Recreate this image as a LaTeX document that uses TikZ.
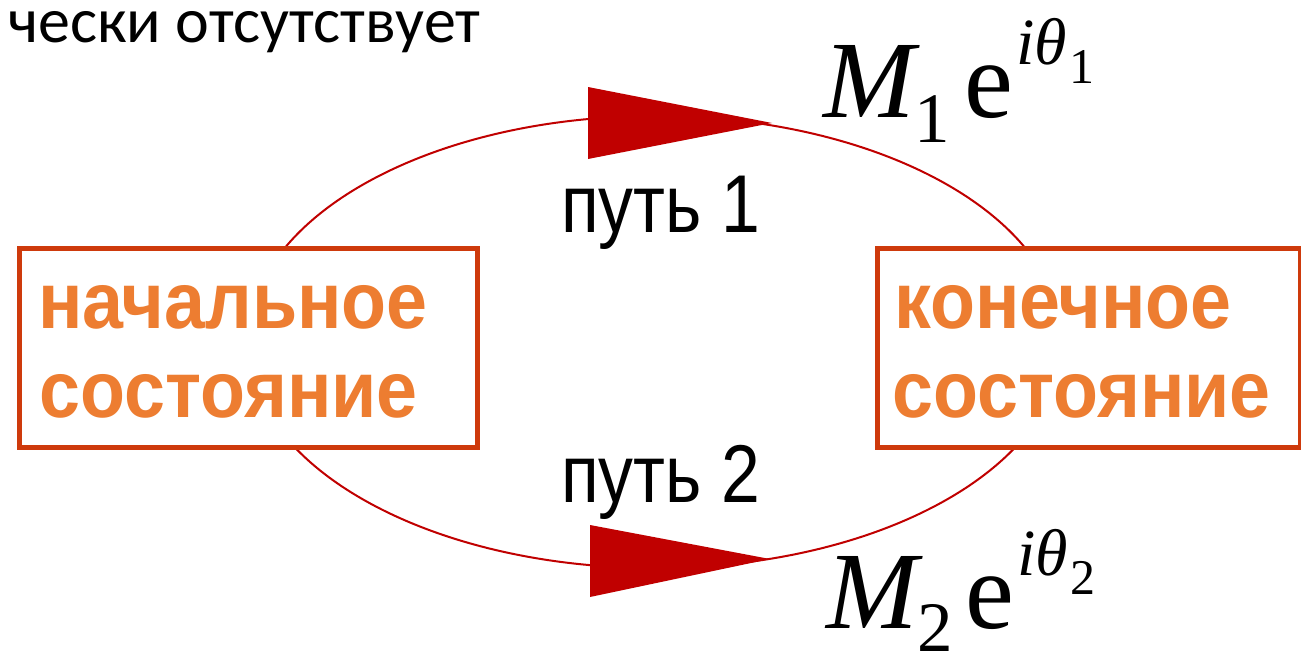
\documentclass[tikz,border=0pt]{standalone}
\usepackage{fontspec}
\usepackage{graphicx}
\setmainfont{Liberation Sans}
\newfontfamily\calibrifont{Carlito}
\newfontfamily\timesfont{Liberation Serif}
\definecolor{pathred}{RGB}{192,0,0}
\definecolor{boxline}{RGB}{206,58,12}
\definecolor{boxtext}{RGB}{237,125,49}
\newcommand{\sqz}[2]{\scalebox{#1}[1]{#2}}
\begin{document}
\begin{tikzpicture}[x=1pt,y=-1pt,
  box/.style={draw=boxline, line width=5pt, fill=white, minimum height=199pt, inner sep=0pt, anchor=north west},
  stxt/.style={text=boxtext, font=\fontsize{80}{89}\selectfont\bfseries, anchor=base west, inner sep=0pt},
  ptxt/.style={font=\fontsize{82}{90}\selectfont, anchor=base west, inner sep=0pt},
  mtxt/.style={font=\timesfont\fontsize{110}{110}\selectfont, anchor=base west, inner sep=0pt},
  pathline/.style={draw=pathred, line width=2pt},
  tiptri/.style={fill=pathred}]
\useasboundingbox (0,0) rectangle (1301,661);
% top-left cut text
\node[anchor=base west, inner sep=0pt, text height=32pt, font=\calibrifont\fontsize{64}{64}\selectfont] (top) at (8,43) {чески отсутствует};
% paths (ellipse)
\coordinate (c) at (655,342);
\draw[pathline] (c) ellipse [x radius=407pt, y radius=226pt];
\fill[tiptri] (588,87) -- (772,123) -- (588,159) -- cycle;
\fill[tiptri] (590,525) -- (770,559) -- (590,597) -- cycle;
% boxes
\node[box, minimum width=458pt] (start) at (16.5,245.5) {};
\node[box, minimum width=423pt] (end) at (874.5,245.5) {};
\node[stxt] (s1) at (38,328) {\sqz{0.92}{начальное}};
\node[stxt] (s2) at (39,417) {\sqz{0.92}{состояние}};
\node[stxt] (e1) at (894,328) {\sqz{0.92}{конечное}};
\node[stxt] (e2) at (892,417) {\sqz{0.92}{состояние}};
% path labels
\node[ptxt] (p1) at (561,232) {\sqz{0.85}{путь 1}};
\node[ptxt] (p2) at (561,502) {\sqz{0.85}{путь 2}};
% amplitudes
\node[mtxt] (m1) at (823,117) {\itshape M\raisebox{-25pt}{\fontsize{71}{71}\selectfont\upshape 1}\hspace{14pt}\upshape e\hspace{3pt}\raisebox{53pt}{\fontsize{66}{66}\selectfont\itshape iθ\hspace{3pt}\raisebox{-19pt}{\fontsize{50}{50}\selectfont\upshape 1}}};
\node[mtxt, text depth=20pt] (m2) at (826,628) {\itshape M\raisebox{-23pt}{\fontsize{71}{71}\selectfont\upshape 2}\hspace{12pt}\upshape e\hspace{3pt}\raisebox{53pt}{\fontsize{66}{66}\selectfont\itshape iθ\hspace{3pt}\raisebox{-19pt}{\fontsize{50}{50}\selectfont\upshape 2}}};
\end{tikzpicture}
\end{document}
